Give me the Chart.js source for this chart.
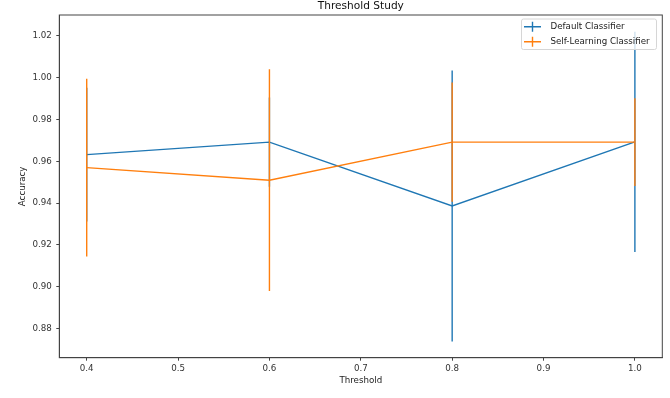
<!DOCTYPE html>
<html lang="en">
<head>
  <meta charset="UTF-8" />
  <title>Threshold Study</title>
  <script src="https://cdn.jsdelivr.net/npm/chart.js"></script>
  <style>
    * { margin: 0; padding: 0; box-sizing: border-box; }
    html, body { background: #fff; width: 670px; height: 398px; overflow: hidden; }
    #wrap { width: 670px; height: 398px; position: relative; }
  </style>
</head>
<body>
  <div id="wrap"><canvas id="chart" width="670" height="398"></canvas></div>

  <script>
    // data
    const thresholds = [0.4, 0.6, 0.8, 1.0];
    const defaultAcc = [0.9632, 0.9692, 0.9387, 0.9693];
    const defaultErr = [0.0320, 0.0213, 0.0648, 0.0527];
    const selfAcc    = [0.9570, 0.9510, 0.9692, 0.9692];
    const selfErr    = [0.0425, 0.0530, 0.0285, 0.0210];

    const xTicks = [0.4, 0.5, 0.6, 0.7, 0.8, 0.9, 1.0];
    const yTicks = [0.88, 0.90, 0.92, 0.94, 0.96, 0.98, 1.00, 1.02];

    const BLUE = '#1f77b4';
    const ORANGE = '#ff7f0e';
    const AXIS = '#444';
    const FONT = 'DejaVu Sans';

    // vertical error bars, drawn right after each dataset's line
    const errorBars = {
      id: 'errorBars',
      afterDatasetDraw(chart, args) {
        const ds = chart.data.datasets[args.index];
        const { ctx, scales: { x, y }, chartArea } = chart;
        ctx.save();
        ctx.beginPath();
        ctx.rect(chartArea.left, chartArea.top, chartArea.width, chartArea.height);
        ctx.clip();
        ctx.strokeStyle = ds.borderColor;
        ctx.lineWidth = 1.4;
        ds.data.forEach((p, i) => {
          const px = x.getPixelForValue(p.x);
          ctx.beginPath();
          ctx.moveTo(px, y.getPixelForValue(p.y - ds.errors[i]));
          ctx.lineTo(px, y.getPixelForValue(p.y + ds.errors[i]));
          ctx.stroke();
        });
        ctx.restore();
      }
    };

    // frame, title and matplotlib-style legend
    const decorations = {
      id: 'decorations',
      afterDraw(chart) {
        const { ctx, chartArea: a } = chart;
        ctx.save();
        ctx.strokeStyle = AXIS;
        ctx.lineWidth = 1;
        ctx.strokeRect(a.left, a.top, a.right - a.left, a.bottom - a.top);

        ctx.fillStyle = '#111';
        ctx.font = '10.6px "' + FONT + '"';
        ctx.textAlign = 'center';
        ctx.textBaseline = 'middle';
        ctx.fillText('Threshold Study', (a.left + a.right) / 2, 6.5);

        // legend box
        const bx = 521.5, by = 19, bw = 135, bh = 30.5;
        ctx.fillStyle = 'rgba(255,255,255,0.8)';
        ctx.strokeStyle = '#d6d6d6';
        ctx.beginPath();
        ctx.roundRect(bx, by, bw, bh, 2);
        ctx.fill();
        ctx.stroke();

        ctx.font = '8.7px "' + FONT + '"';
        ctx.textAlign = 'left';
        chart.data.datasets.forEach((ds, i) => {
          const ly = 26.7 + i * 15;
          ctx.strokeStyle = ds.borderColor;
          ctx.lineWidth = 1.4;
          ctx.beginPath();
          ctx.moveTo(524, ly); ctx.lineTo(541, ly);
          ctx.moveTo(532.5, ly - 5); ctx.lineTo(532.5, ly + 5);
          ctx.stroke();
          ctx.fillStyle = '#222';
          ctx.fillText(ds.label, 550.5, ly);
        });
        ctx.restore();
      }
    };

    const toPoints = (vals) => thresholds.map((t, i) => ({ x: t, y: vals[i] }));

    new Chart(document.getElementById('chart'), {
      type: 'line',
      data: {
        datasets: [
          // higher order is drawn first, so the orange series ends up on top
          { label: 'Default Classifier', data: toPoints(defaultAcc), errors: defaultErr, order: 1,
            borderColor: BLUE, backgroundColor: BLUE, borderWidth: 1.4, pointRadius: 0, tension: 0 },
          { label: 'Self-Learning Classifier', data: toPoints(selfAcc), errors: selfErr, order: 0,
            borderColor: ORANGE, backgroundColor: ORANGE, borderWidth: 1.4, pointRadius: 0, tension: 0 }
        ]
      },
      options: {
        responsive: false,
        animation: false,
        layout: { padding: { left: 0, right: 7.7, top: 15, bottom: 0 } },
        plugins: { legend: { display: false }, tooltip: { enabled: false } },
        scales: {
          x: {
            type: 'linear', min: 0.37, max: 1.03,
            afterBuildTicks: s => { s.ticks = xTicks.map(v => ({ value: v })); },
            afterFit: s => { s.height = 40.3; },
            grid: { drawOnChartArea: false, tickLength: 3, color: AXIS },
            border: { color: AXIS, width: 1 },
            ticks: { padding: 3, color: '#333', font: { family: FONT, size: 8.7 },
                     callback: v => v.toFixed(1), maxRotation: 0, autoSkip: false },
            title: { display: true, text: 'Threshold', color: '#222',
                     font: { family: FONT, size: 8.7 }, padding: { top: 0, bottom: 11.8 } }
          },
          y: {
            type: 'linear', min: 0.8661, max: 1.0300,
            afterBuildTicks: s => { s.ticks = yTicks.map(v => ({ value: v })); },
            afterFit: s => { s.width = 59.3; },
            grid: { drawOnChartArea: false, tickLength: 3, color: AXIS },
            border: { color: AXIS, width: 1 },
            ticks: { padding: 4.5, color: '#333', font: { family: FONT, size: 8.7 },
                     callback: v => v.toFixed(2), autoSkip: false },
            title: { display: true, text: 'Accuracy', color: '#222',
                     font: { family: FONT, size: 8.7 }, padding: { top: 17.8, bottom: 0 } }
          }
        }
      },
      plugins: [errorBars, decorations]
    });
  </script>
</body>
</html>
